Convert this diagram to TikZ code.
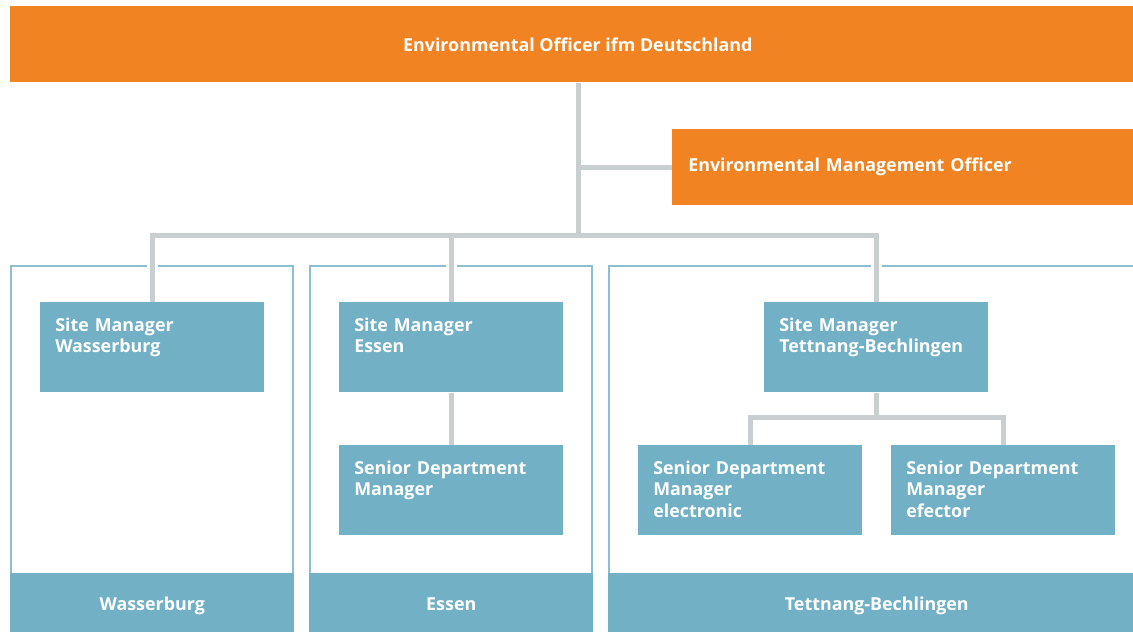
\documentclass[tikz,border=0pt]{standalone}
\usepackage{fontspec}
\setmainfont{Open Sans}
\usepackage{xcolor}
\usetikzlibrary{positioning,calc}

\definecolor{ifmorange}{HTML}{F28322}
\definecolor{ifmblue}{HTML}{72B0C6}
\definecolor{ifmframe}{HTML}{8BBFD1}
\definecolor{ifmgrey}{HTML}{C9CED1}

\newcommand\chartfont{\bfseries\fontsize{13.4}{16.1}\selectfont}

\tikzset{
  orangebar/.style={fill=ifmorange, text=white, font=\chartfont, inner sep=0pt,
    minimum height=57pt, anchor=north west},
  rolebox/.style={fill=ifmblue, text=white, font=\chartfont, anchor=north west,
    inner xsep=11.25pt, inner ysep=0pt, text width=145.5pt, align=left,
    text height=21.75pt, text depth=45.75pt},
  sitebar/.style={fill=ifmblue, text=white, font=\chartfont, anchor=north west,
    inner sep=0pt, text height=27.75pt, text depth=16.5pt},
  siteframe/.style={draw=ifmframe, line width=1.5pt},
  link/.style={draw=ifmgrey, line width=3.75pt},
  halo/.style={preaction={draw=white, line width=8.25pt}},
}

\begin{document}
\begin{tikzpicture}[x=0.75pt, y=-0.75pt]
                \useasboundingbox (0,0) rectangle (1133,632);

                % Drawing frame Wasserburg
                \draw [siteframe] (11,575) -- (11,266) -- (293,266) -- (293,575);%

                % Drawing frame Essen
                \draw [siteframe] (310,575) -- (310,266) -- (592,266) -- (592,575);%

                % Drawing frame Tettnang-Bechlingen
                \draw [siteframe] (1133,266) -- (609,266) -- (609,575);%

                % Marking officers
                \node [orangebar, minimum width=842.25pt, align=center] (officer) at (10,6) {\hspace*{9pt}Environmental Officer ifm Deutschland};%
                \node [orangebar, inner xsep=12pt, text width=321.75pt, align=left] (emo) at (672,129) {Environmental Management Officer};%

                % Marking site managers
                \node [rolebox] (smwas) at (40,302) {Site Manager\\Wasserburg};%
                \node [rolebox] (smess) at (339,302) {Site Manager\\Essen};%
                \node [rolebox] (smtet) at (764,302) {Site Manager\\Tettnang-Bechlingen};%

                % Marking senior department managers
                \node [rolebox] (sdess) at (339,445) {Senior Department\\Manager};%
                \node [rolebox] (sdel) at (638,445) {Senior Department\\Manager\\electronic};%
                \node [rolebox] (sdef) at (891,445) {Senior Department\\Manager\\efector};%

                % Marking site bars
                \node [sitebar, minimum width=213pt] (barwas) at (10,573) {Wasserburg};%
                \node [sitebar, minimum width=213pt] (baress) at (309,573) {Essen};%
                \node [sitebar, minimum width=393.75pt] (bartet) at (608,573) {\hspace*{9pt}Tettnang-Bechlingen};%

                % Drawing links top
                \coordinate (hub) at (578,235);
                \path [link, halo] (officer.south -| hub) -- (hub)
                  (hub |- emo.west) -- (emo.west)
                  (smwas.north) -- (smwas.north |- hub) -- (smtet.north |- hub) -- (smtet.north)
                  (smess.north) -- (smess.north |- hub);%

                % Drawing link Essen
                \draw [link] (smess.south) -- (sdess.north);%

                % Drawing links Tettnang-Bechlingen
                \coordinate (tetsplit) at (877,417);
                \draw [link] (smtet.south) -- (smtet.south |- tetsplit);%
                \draw [link] (sdel.north) |- (tetsplit) -| (sdef.north);%
\end{tikzpicture}
\end{document}
